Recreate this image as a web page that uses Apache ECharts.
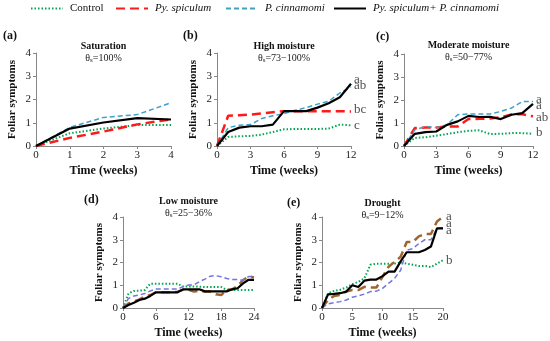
<!DOCTYPE html>
<html><head><meta charset="utf-8">
<script src="https://cdn.jsdelivr.net/npm/echarts@6/dist/echarts.min.js"></script>
<style>html,body{margin:0;padding:0;background:#fff}#c{width:550px;height:341px}</style>
</head><body><div id="c"></div>
<script>
// ---- data ----
const seriesNames = ['Control', 'Py. spiculum', 'P. cinnamomi', 'Py. spiculum+ P. cinnamomi'];

const weeksA = [0,1,2,3,4];
const ctrlA = [0,0.55,0.75,0.9,0.9];
const pyA   = [0,0.35,0.62,0.93,1.15];
const pcA   = [0,0.8,1.23,1.35,1.86];
const bothA = [0,0.75,1.01,1.2,1.14];

const weeksB = [0,1,2,3,4,5,6,7,8,9,10,11,12];
const ctrlB = [0,0.39,0.42,0.43,0.49,0.6,0.72,0.73,0.73,0.73,0.75,0.92,0.89];
const pyB   = [0,1.3,1.32,1.35,1.4,1.45,1.5,1.5,1.5,1.5,1.5,1.5,1.48];
const pcB   = [0,0.79,0.89,0.92,1.18,1.3,1.39,1.54,1.65,1.8,1.93,2.28,2.54];
const bothB = [0,0.6,0.79,0.85,0.85,0.92,1.5,1.5,1.5,1.65,1.84,2.1,2.68];

const weeksC = [0,1,2,3,4,5,6,7,8,9,10,11,12];
const ctrlC = [0,0.35,0.38,0.45,0.52,0.6,0.66,0.68,0.52,0.53,0.56,0.56,0.53];
const pyC   = [0,0.78,0.8,0.8,0.85,0.85,1.17,1.18,1.2,1.25,1.37,1.38,1.29];
const pcC   = [0,0.7,0.85,0.8,0.92,1.36,1.39,1.39,1.39,1.5,1.65,1.93,1.93];
const bothC = [0,0.53,0.6,0.63,0.92,1.07,1.31,1.26,1.27,1.17,1.36,1.43,1.83];

const weeksD = [0,1,2,3,4,5,6,7,8,9,10,11,12,13,14,15,16,17,18,19,20,21,22,23,24];
const ctrlD = [0,0.64,0.75,0.76,0.79,1.07,1.07,1.07,1.07,1.07,1.07,0.94,0.94,0.94,0.94,0.92,0.92,0.92,0.92,0.79,0.79,0.79,0.79,0.79,0.79];
const pyD   = [0,0.2,0.28,0.38,0.5,0.57,0.69,0.69,0.69,0.69,0.72,0.8,0.8,0.72,0.76,0.72,0.72,0.6,0.57,0.8,0.82,0.97,1.23,1.38,1.35];
const pcD   = [0,0.42,0.53,0.57,0.64,0.75,0.83,0.83,0.83,0.83,0.83,0.94,1.01,1.01,1.16,1.27,1.4,1.42,1.37,1.3,1.25,1.25,1.22,1.38,1.38];
const bothD = [0,0.13,0.23,0.35,0.41,0.53,0.69,0.69,0.69,0.69,0.69,0.82,0.82,0.82,0.82,0.73,0.73,0.73,0.73,0.73,0.82,0.87,1.08,1.24,1.24];

const weeksE = [0,1,2,3,4,5,6,7,8,9,10,11,12,13,14,15,16,17,18,19,20];
const ctrlE = [0,0.65,0.75,0.8,0.9,1.05,1.15,1.3,1.9,1.95,1.95,1.95,1.95,2.0,1.95,1.9,1.85,1.85,1.8,1.95,2.1];
const pyE   = [0,0.35,0.53,0.57,0.72,0.79,0.79,0.93,0.9,0.9,1.37,1.81,2.03,2.25,2.9,2.9,3.15,3.25,3.25,3.8,4.0];
const pcE   = [0,0.18,0.23,0.28,0.35,0.47,0.53,0.61,0.72,0.74,0.86,1.08,1.3,1.66,2.54,2.61,2.83,3.0,3.0,3.49,3.53];
const bothE = [0,0.6,0.62,0.65,0.72,1.0,0.92,1.2,1.25,1.25,1.4,1.6,1.6,2.05,2.45,2.45,2.45,2.55,2.7,3.5,3.5];

const panelLabels = ['(a)','(b)','(c)','(d)','(e)'];
const panelTitles = ['Saturation','High moisture','Moderate moisture','Low moisture','Drought'];
const panelRanges = ['=100%','=73\u2212100%','=50\u221277%','=25\u221236%','=9\u221212%'];
const xMax = [4,12,12,24,20];
const xInterval = [1,3,3,6,5];
const yTicks = [0,1,2,3,4];

const lettersB = ['a','ab','bc','c'];     const letterYB = [2.84,2.6,1.55,0.88];
const lettersC = ['a','a','ab','b'];      const letterYC = [2.03,1.74,1.25,0.58];
const lettersE = ['a','a','a','b'];       const letterYE = [4.01,3.72,3.4,2.08];

// ---- layout / style ----
const FONT = 'Liberation Serif';
const grids = [
  {left:36, top:53, width:135, height:93},
  {left:217, top:53, width:134, height:93},
  {left:404, top:54, width:129, height:92},
  {left:123, top:217, width:131, height:91},
  {left:322, top:217, width:121, height:91}
];
const titleTops = [41, 41, 40, 196, 198];
const legendLefts = [30, 115, 225, 333];
const panelData = [
  [weeksA, ctrlA, pyA, pcA, bothA],
  [weeksB, ctrlB, pyB, pcB, bothB],
  [weeksC, ctrlC, pyC, pcC, bothC],
  [weeksD, ctrlD, pyD, pcD, bothD],
  [weeksE, ctrlE, pyE, pcE, bothE]
];
const letterSets = [null, [lettersB, letterYB], [lettersC, letterYC], null, [lettersE, letterYE]];

function styles(i) {
  const late = i >= 3;
  return [
    {color:'#00a650', width:2, type:[1.5,2]},
    {color: late ? '#a0652e' : '#ff1a1a', width:2.5, type:[9,5]},
    {color: late ? '#7376e0' : '#3fa0c8', width:1.5, type:[5,3]},
    {color:'#000000', width:2.2, type:'solid'}
  ];
}

const xAxes = [], yAxes = [], series = [], titles = [];
grids.forEach((g, i) => {
  xAxes.push({
    type:'value', gridIndex:i, min:0, max:xMax[i], interval:xInterval[i],
    name:'Time (weeks)', nameLocation:'middle', nameGap:19,
    nameTextStyle:{fontFamily:FONT, fontWeight:'bold', fontSize:12, color:'#111'},
    axisLine:{lineStyle:{color:'#888', width:1}},
    axisTick:{show:true, length:3, lineStyle:{color:'#888'}},
    axisLabel:{fontFamily:FONT, fontSize:11, color:'#222', margin:4},
    splitLine:{show:false}
  });
  yAxes.push({
    type:'value', gridIndex:i, min:yTicks[0], max:yTicks[yTicks.length-1], interval:1,
    name:'Foliar symptoms', nameLocation:'middle', nameGap:18,
    nameTextStyle:{fontFamily:FONT, fontWeight:'bold', fontSize:11, color:'#111'},
    axisLine:{show:true, lineStyle:{color:'#888', width:1}},
    axisTick:{show:true, length:3, lineStyle:{color:'#888'}},
    axisLabel:{fontFamily:FONT, fontSize:11, color:'#222', margin:5},
    splitLine:{show:false}
  });
  const d = panelData[i];
  const st = styles(i);
  for (let k = 0; k < 4; k++) {
    series.push({
      type:'line', name:seriesNames[k], xAxisIndex:i, yAxisIndex:i,
      data: d[0].map((w, j) => [w, d[k+1][j]]),
      symbol:'none', showSymbol:false, silent:true, z: k === 3 ? 5 : 3,
      lineStyle: st[k], itemStyle:{color: st[k].color},
      emphasis:{disabled:true}
    });
  }
  if (letterSets[i]) {
    const [lbl, ys] = letterSets[i];
    series.push({
      type:'scatter', xAxisIndex:i, yAxisIndex:i, symbolSize:0, clip:false, silent:true,
      data: ys.map((y, j) => ({value:[xMax[i], y], label:{formatter: lbl[j]}})),
      label:{show:true, position:'right', distance:3, fontFamily:FONT, fontSize:13, color:'#222'}
    });
  }
  const cx = g.left + g.width / 2;
  titles.push({
    text: panelTitles[i],
    subtext: '{t|\u03b8}{s|s}{t|' + panelRanges[i] + '}',
    left: cx, top: titleTops[i], textAlign:'center', itemGap:2, padding:0,
    textStyle:{fontFamily:FONT, fontWeight:'bold', fontSize:10, color:'#111'},
    subtextStyle:{fontFamily:FONT, fontSize:10, color:'#222',
      rich:{t:{fontFamily:FONT, fontSize:10, color:'#222'}, s:{fontFamily:FONT, fontSize:7, color:'#222', verticalAlign:'bottom', padding:[4,0,0,0]}}}
  });
});
const labelPos = [[3,30],[183,30],[376,31],[84,194],[287,197]];
labelPos.forEach((p, i) => titles.push({
  text: panelLabels[i], left:p[0], top:p[1], padding:0,
  textStyle:{fontFamily:FONT, fontWeight:'bold', fontSize:12, color:'#111'}
}));

const legends = seriesNames.map((n, k) => ({
  data:[n], left:legendLefts[k], top:3, padding:0, itemWidth:32, itemHeight:12, itemGap:0,
  selectedMode:false,
  itemStyle:{opacity:0},
  textStyle:{fontFamily:FONT, fontSize:11, color:'#111', padding:[0,0,0,2],
    rich:{i:{fontFamily:FONT, fontSize:11, fontStyle:'italic', color:'#111'}}},
  formatter: function (name) { return name === 'Control' ? name : '{i|' + name + '}'; }
}));

const chart = echarts.init(document.getElementById('c'), null, {renderer:'canvas'});
chart.setOption({
  animation:false,
  backgroundColor:'#fff',
  title: titles,
  legend: legends,
  grid: grids,
  xAxis: xAxes,
  yAxis: yAxes,
  series: series
});
</script></body></html>
